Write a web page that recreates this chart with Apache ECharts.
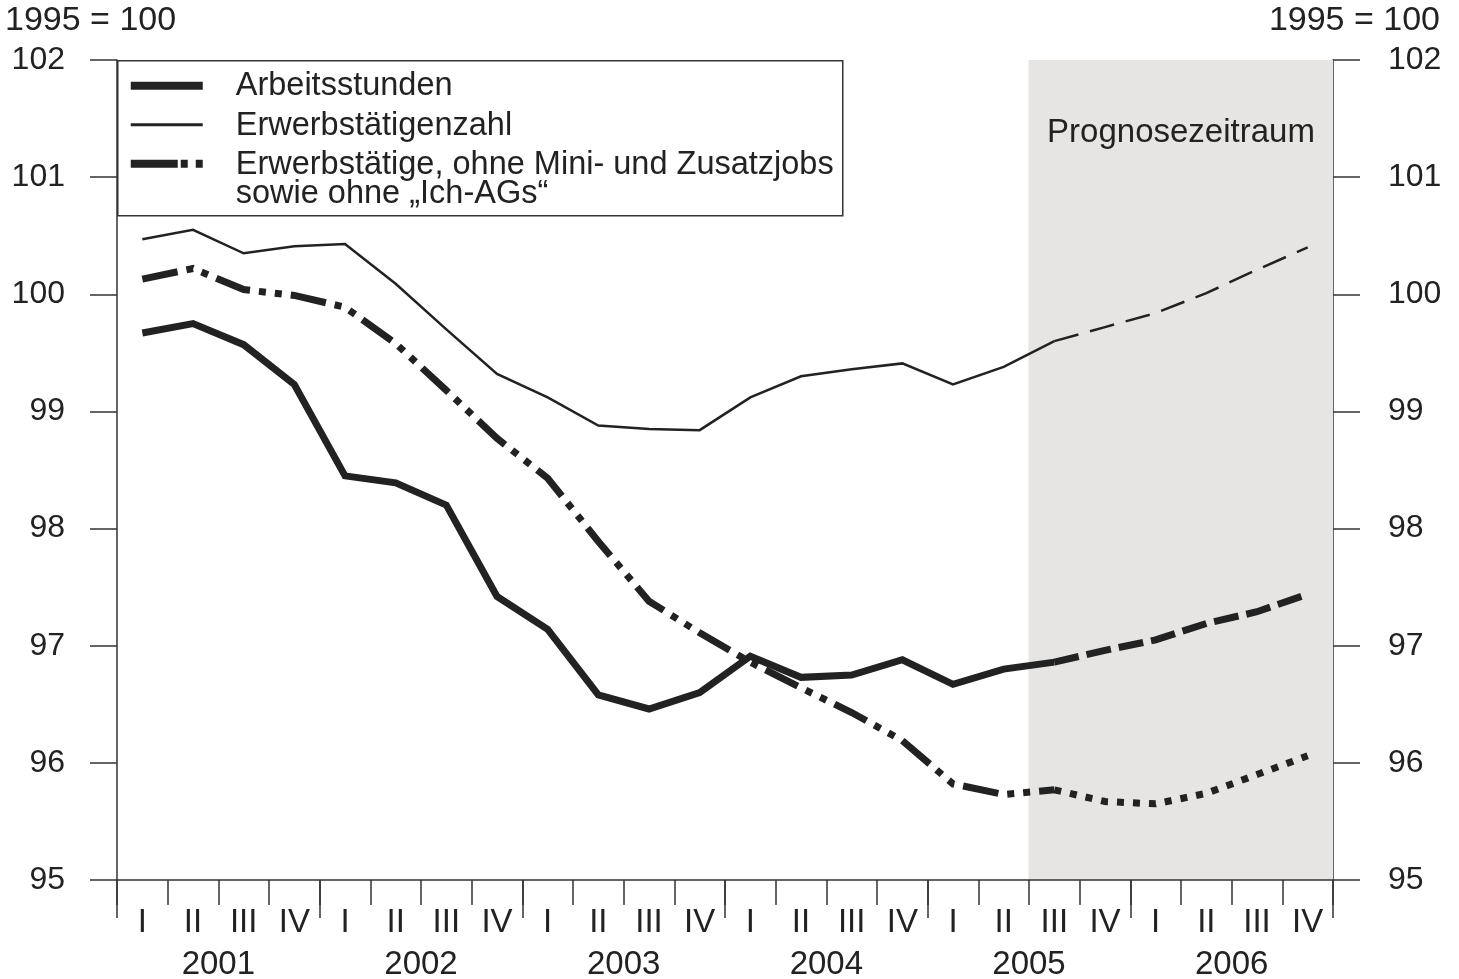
<!DOCTYPE html>
<html lang="de">
<head>
<meta charset="UTF-8">
<title>Arbeitsstunden und Erwerbstätige</title>
<script src="https://cdn.jsdelivr.net/npm/echarts@6.0.0/dist/echarts.min.js"></script>
<style>
  html, body { margin: 0; padding: 0; background: #fff; }
  #chart { width: 1459px; height: 979px; }
</style>
</head>
<body>
<div id="chart"></div>
<script>
  // Quartale 2001 I bis 2006 IV
  var quarters = ['I', 'II', 'III', 'IV', 'I', 'II', 'III', 'IV', 'I', 'II', 'III', 'IV',
                  'I', 'II', 'III', 'IV', 'I', 'II', 'III', 'IV', 'I', 'II', 'III', 'IV']
  var years = ['2001', '2002', '2003', '2004', '2005', '2006']

  // Index 1995 = 100
  var arbeitsstunden = [99.67, 99.75, 99.57, 99.23, 98.45, 98.39, 98.20, 97.42,
                        97.14, 96.58, 96.46, 96.60, 96.91, 96.73, 96.75, 96.88,
                        96.67, 96.80, 96.86, 96.96, 97.05, 97.19, 97.29, 97.44]
  var erwerbstaetige = [100.47, 100.55, 100.35, 100.41, 100.43, 100.09, 99.70, 99.32,
                        99.12, 98.88, 98.85, 98.84, 99.12, 99.30, 99.36, 99.41,
                        99.23, 99.38, 99.60, 99.72, 99.84, 100.01, 100.21, 100.40]
  var ohneMinijobs = [100.13, 100.22, 100.04, 99.99, 99.89, 99.58, 99.18, 98.77,
                      98.43, 97.89, 97.38, 97.11, 96.86, 96.64, 96.43, 96.19,
                      95.82, 95.73, 95.77, 95.67, 95.65, 95.74, 95.90, 96.06]

  var prognoseStart = 18 // 2005 III
  var ink = '#222222'
  var shade = '#e6e5e4'
  var font = 'Liberation Sans, Arial, Helvetica, sans-serif'

  function part(arr, from, to) {
    return arr.map(function (v, i) { return i >= from && i <= to ? v : null })
  }

  // Prognosezeitraum als volle Kategorienbänder
  var prognoseBand = quarters.map(function (q, i) { return i >= prognoseStart ? 102 : null })

  function lineSeries(name, data, width, dash) {
    return {
      name: name,
      type: 'line',
      data: data,
      symbol: 'none',
      connectNulls: false,
      silent: true,
      z: 3,
      lineStyle: { color: ink, width: width, type: dash, cap: 'butt', join: 'miter' }
    }
  }

  var chart = echarts.init(document.getElementById('chart'))

  var yAxisCommon = {
    type: 'value',
    min: 95,
    max: 102,
    interval: 1,
    splitLine: { show: false },
    axisLine: { show: true, lineStyle: { color: '#333', width: 1.5 } },
    axisTick: { show: true, inside: false, length: 27, lineStyle: { color: '#333', width: 1.5 } }
  }

  var option = {
    animation: false,
    backgroundColor: '#fff',
    grid: { left: 117, right: 126, top: 60, bottom: 99, containLabel: false, outerBoundsMode: 'none' },
    xAxis: [
      {
        type: 'category',
        data: quarters,
        position: 'bottom',
        boundaryGap: true,
        z: 5,
        axisLine: { show: true, lineStyle: { color: '#333', width: 1.5 } },
        axisTick: { show: true, length: 25, interval: 0, lineStyle: { color: '#333', width: 1.5 } },
        axisLabel: { interval: 0, margin: 26, fontSize: 33, color: ink, fontFamily: font }
      },
      {
        type: 'category',
        data: years,
        position: 'bottom',
        boundaryGap: true,
        axisLine: { show: false },
        axisTick: { show: true, length: 38, interval: 0, lineStyle: { color: '#333', width: 1.5 } },
        axisLabel: { interval: 0, margin: 68, fontSize: 33, color: ink, fontFamily: font }
      }
    ],
    yAxis: [
      Object.assign({}, yAxisCommon, {
        position: 'left',
        axisLabel: { margin: 52, fontSize: 32, color: ink, fontFamily: font, align: 'right' }
      }),
      Object.assign({}, yAxisCommon, {
        position: 'right',
        axisLabel: { margin: 55, fontSize: 32, color: ink, fontFamily: font, align: 'left' }
      })
    ],
    series: [
      {
        name: 'Prognosezeitraum',
        type: 'bar',
        data: prognoseBand,
        barWidth: '102%',
        silent: true,
        z: 1,
        itemStyle: { color: shade }
      },
      lineSeries('Erwerbstätigenzahl', part(erwerbstaetige, 0, prognoseStart), 2.5, 'solid'),
      lineSeries('Erwerbstätigenzahl Prognose', part(erwerbstaetige, prognoseStart, 23), 2.5, [25, 12]),
      lineSeries('Arbeitsstunden', part(arbeitsstunden, 0, prognoseStart), 7, 'solid'),
      lineSeries('Arbeitsstunden Prognose', part(arbeitsstunden, prognoseStart, 23), 7, [25, 8]),
      lineSeries('Erwerbstätige ohne Mini- und Zusatzjobs', part(ohneMinijobs, 0, prognoseStart), 7, [36, 9, 7, 9, 7, 9]),
      lineSeries('Erwerbstätige ohne Mini- und Zusatzjobs Prognose', part(ohneMinijobs, prognoseStart, 23), 7, [7, 9])
    ],
    graphic: [
      { type: 'text', left: 5, top: 4, style: { text: '1995 = 100', fontSize: 34, fill: ink, fontFamily: font } },
      { type: 'text', right: 19, top: 4, style: { text: '1995 = 100', fontSize: 34, fill: ink, fontFamily: font } },
      { type: 'text', x: 1181, y: 133, z: 2,
        style: { text: 'Prognosezeitraum', fontSize: 33, fill: ink, fontFamily: font, align: 'center', verticalAlign: 'middle' } },
      // Legende
      {
        type: 'group',
        left: 117,
        top: 60,
        z: 10,
        children: [
          { type: 'rect', shape: { x: 0, y: 0, width: 725, height: 155 },
            style: { fill: '#fff', stroke: '#333', lineWidth: 1.5 } },
          { type: 'line', shape: { x1: 13, y1: 25, x2: 85, y2: 25 },
            style: { stroke: ink, lineWidth: 8 } },
          { type: 'text', x: 118, y: 25, style: { text: 'Arbeitsstunden', fontSize: 32.5, fill: ink, fontFamily: font, verticalAlign: 'middle' } },
          { type: 'line', shape: { x1: 13, y1: 64, x2: 85, y2: 64 },
            style: { stroke: ink, lineWidth: 3 } },
          { type: 'text', x: 118, y: 65, style: { text: 'Erwerbstätigenzahl', fontSize: 32.5, fill: ink, fontFamily: font, verticalAlign: 'middle' } },
          { type: 'line', shape: { x1: 13, y1: 103, x2: 85, y2: 103 },
            style: { stroke: ink, lineWidth: 8, lineDash: [47, 3, 7, 8, 7, 0] } },
          { type: 'text', x: 118, y: 104, style: { text: 'Erwerbstätige, ohne Mini- und Zusatzjobs', fontSize: 32.5, fill: ink, fontFamily: font, verticalAlign: 'middle' } },
          { type: 'text', x: 118, y: 133, style: { text: 'sowie ohne „Ich-AGs“', fontSize: 32.5, fill: ink, fontFamily: font, verticalAlign: 'middle' } }
        ]
      }
    ]
  }

  chart.setOption(option)
</script>
</body>
</html>
